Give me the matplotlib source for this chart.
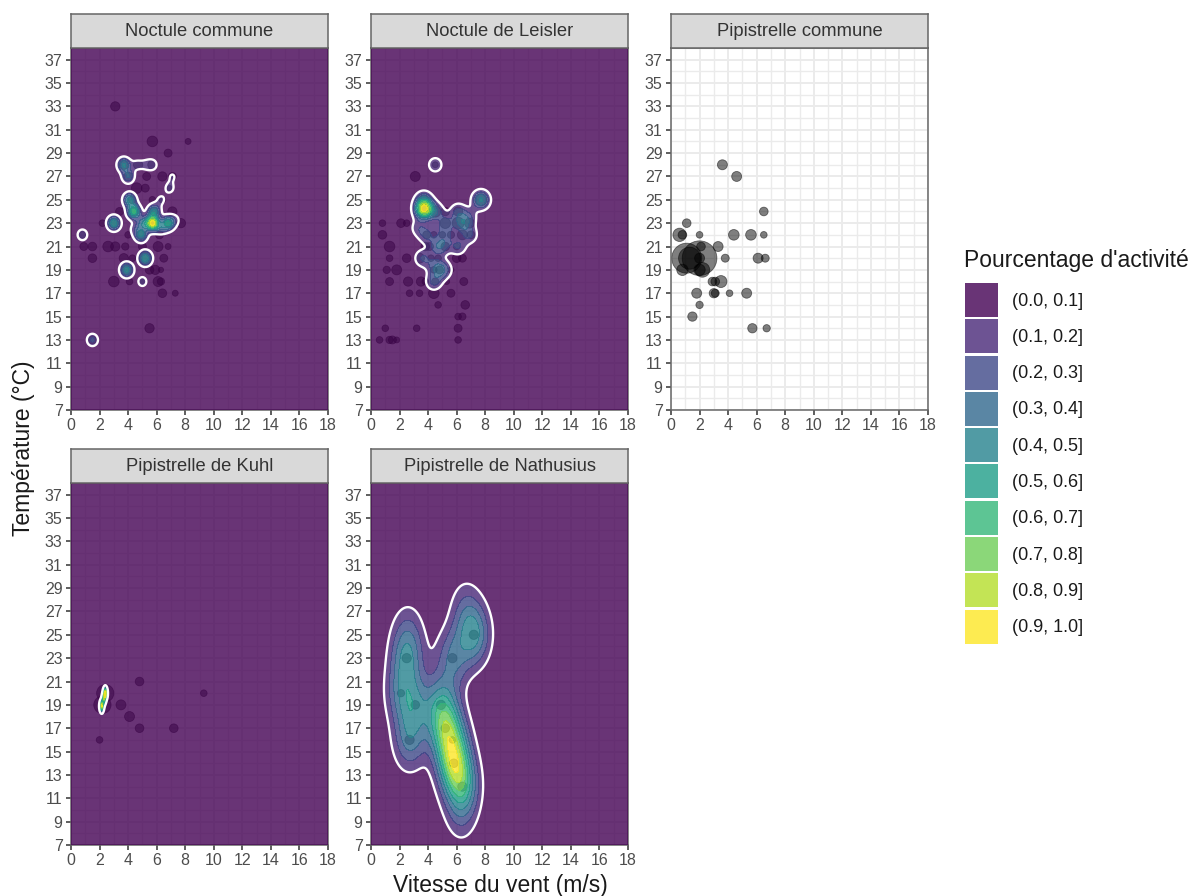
import numpy as np
import matplotlib
matplotlib.use("Agg")
import matplotlib.pyplot as plt
from matplotlib.patches import Rectangle

plt.rcParams['font.family'] = ['Liberation Sans', 'DejaVu Sans']

W, H = 1192, 896

names = ["Noctule commune", "Noctule de Leisler", "Pipistrelle commune",
         "Pipistrelle de Kuhl", "Pipistrelle de Nathusius"]

legend_labels = ["(0.0, 0.1]", "(0.1, 0.2]", "(0.2, 0.3]", "(0.3, 0.4]", "(0.4, 0.5]",
                 "(0.5, 0.6]", "(0.6, 0.7]", "(0.7, 0.8]", "(0.8, 0.9]", "(0.9, 1.0]"]

x_ticks = list(range(0, 19, 2))
y_ticks = list(range(7, 38, 2))

# observed nights: wind, temperature, activity
nc_wind = [3.1, 5.7, 8.2, 6.8, 3.7, 4.7, 5.7, 4.0, 5.3, 6.4, 7.1, 4.6, 5.2, 6.9, 5.7, 4.3, 6.4,
           3.4, 4.4, 5.8, 7.1, 2.2, 3.0, 5.7, 6.8, 7.7, 0.8, 4.0, 4.9, 6.2, 0.9, 1.5, 2.6, 3.1,
           3.8, 5.0, 6.1, 6.8, 1.5, 3.7, 4.3, 5.2, 6.5, 3.9, 5.5, 5.9, 6.3, 3.0, 4.1, 5.0, 6.1,
           6.3, 6.4, 7.3, 5.5, 1.5]
nc_temp = [33, 30, 30, 29, 28, 28, 28, 27, 27, 27, 27, 26, 26, 26, 25, 25, 25,
           24, 24, 24, 24, 23, 23, 23, 23, 23, 22, 22, 22, 22, 21, 21, 21, 21,
           21, 21, 21, 21, 20, 20, 20, 20, 20, 19, 19, 19, 19, 18, 18, 18, 18,
           18, 17, 17, 14, 13]
nc_act = [14, 16, 9, 12, 14, 14, 14, 13, 12, 14, 12, 16, 12, 8, 10, 12, 10,
          12, 13, 13, 14, 10, 14, 16, 12, 14, 10, 10, 14, 12, 12, 13, 16, 14,
          11, 12, 15, 9, 13, 14, 10, 20, 12, 16, 13, 14, 8, 16, 10, 15, 15,
          11, 13, 9, 14, 12]

nl_wind = [3.1, 3.7, 7.7, 3.7, 4.5, 5.2, 6.1, 0.8, 2.1, 2.5, 5.2, 6.1, 6.9, 0.8, 3.9, 4.4, 5.0,
           5.6, 6.4, 7.0, 1.3, 3.8, 4.1, 5.2, 6.0, 1.3, 2.5, 3.4, 4.2, 4.7, 6.0, 6.4, 1.1, 1.8,
           4.4, 4.8, 5.6, 1.3, 2.6, 3.5, 3.8, 4.5, 5.3, 6.5, 2.7, 3.4, 4.4, 5.6, 4.7, 6.6, 6.1,
           6.4, 1.0, 3.2, 6.1, 0.6, 1.3, 1.5, 1.8, 6.1, 4.5]
nl_temp = [27, 25, 25, 24, 24, 24, 24, 23, 23, 23, 23, 23, 23, 22, 22, 22, 22,
           22, 22, 22, 21, 21, 21, 21, 21, 20, 20, 20, 20, 20, 20, 20, 19, 19,
           19, 19, 19, 18, 18, 18, 18, 18, 18, 18, 17, 17, 17, 17, 16, 16, 15,
           15, 14, 14, 14, 13, 13, 13, 13, 13, 28]
nl_act = [15, 15, 18, 20, 17, 13, 14, 10, 13, 10, 16, 18, 15, 13, 12, 10, 10,
          11, 15, 12, 16, 13, 12, 13, 10, 10, 13, 15, 10, 10, 13, 12, 11, 15,
          10, 12, 9, 12, 14, 14, 10, 11, 9, 12, 10, 10, 16, 12, 10, 13, 10,
          11, 10, 10, 12, 10, 11, 12, 9, 10, 9]

pc_wind = [3.6, 4.6, 6.5, 1.1, 0.6, 0.8, 2.0, 4.4, 5.6, 6.5, 2.1, 3.3, 1.1, 1.3, 2.0, 2.0, 3.8,
           6.1, 6.6, 0.8, 2.0, 2.2, 2.9, 3.1, 3.5, 1.8, 3.0, 3.1, 4.1, 5.3, 2.0, 1.5, 5.7, 6.7]
pc_temp = [28, 27, 24, 23, 22, 22, 22, 22, 22, 22, 21, 21, 20, 20, 20, 20, 20,
           20, 20, 19, 19, 19, 18, 18, 18, 17, 17, 17, 17, 17, 16, 15, 14, 14]
pc_act = [15, 15, 13, 13, 20, 13, 10, 16, 16, 10, 13, 15, 45, 33, 52, 15, 12,
          15, 12, 17, 17, 22, 13, 13, 18, 15, 14, 12, 10, 15, 11, 14, 14, 11]

pk_wind = [4.8, 2.4, 9.3, 2.2, 3.5, 4.1, 4.8, 7.2, 2.0]
pk_temp = [21, 20, 20, 19, 19, 18, 17, 17, 16]
pk_act = [13, 26, 10, 26, 15, 15, 13, 13, 10]

pn_wind = [7.2, 2.5, 5.7, 2.1, 3.1, 4.9, 5.2, 2.7, 5.7, 5.8, 6.4]
pn_temp = [25, 23, 23, 20, 19, 19, 17, 16, 16, 14, 12]
pn_act = [14, 14, 14, 11, 13, 14, 13, 14, 10, 13, 14]

# density: centre, height, per species bandwidth
nc_dens_x = [5.7, 6.8, 4.4, 4.1, 5.8, 5.0, 4.9, 3.0, 0.8, 5.2, 3.9, 5.0, 1.5, 3.7, 4.0, 4.6, 5.2, 5.7, 6.9, 7.1, 6.3, 4.4, 6.3, 7.3]
nc_dens_y = [23, 23, 24, 25, 24, 23, 22, 23, 22, 20, 19, 18, 13, 28, 27, 28, 28, 28, 26, 27, 25, 22.5, 22.6, 23.3]
nc_dens_h = [.92, .5, .62, .44, .42, .3, .42, .5, .18, .5, .46, .15, .22, .42, .3, .12, .1, .15, .14, .105, .12, .1, .2, .1]
nc_bw = (0.31, 0.42)

nl_dens_x = [3.7, 3.7, 7.7, 4.5, 6.4, 6.1, 5.2, 4.5, 5.2, 3.9, 5.0, 6.9, 4.8, 4.4, 3.6, 4.6, 6.1, 6.9, 3.3, 4.4, 5.2]
nl_dens_y = [24.2, 25, 25, 28, 23, 24, 23, 24, 22, 22, 21, 22, 19, 18, 20, 21, 21, 23.5, 22.6, 19.5, 19]
nl_dens_h = [.86, .25, .42, .17, .3, .2, .2, .24, .2, .2, .16, .2, .24, .22, .2, .17, .2, .14, .14, .12, .12]
nl_bw = (0.42, 0.55)

pk_dens_x = [2.4, 2.3, 2.15]
pk_dens_y = [20.0, 19.5, 18.9]
pk_dens_h = [1.0, .6, .9]
pk_bw = (0.09, 0.32)

pn_dens_x = [7.2, 2.5, 5.7, 2.1, 3.1, 4.9, 5.2, 2.7, 5.7, 5.8, 6.4, 6.6, 2.6, 6.3]
pn_dens_y = [25, 23, 23, 20, 19, 19, 17, 16, 16, 14, 12, 27.3, 25.3, 9.5]
pn_dens_h = [.4, .32, .28, .24, .26, .33, .38, .3, .24, .55, .42, .15, .15, .12]
pn_bw = (0.8, 1.85)

panels = [
    (nc_wind, nc_temp, nc_act, nc_dens_x, nc_dens_y, nc_dens_h, nc_bw),
    (nl_wind, nl_temp, nl_act, nl_dens_x, nl_dens_y, nl_dens_h, nl_bw),
    (pc_wind, pc_temp, pc_act, None, None, None, None),
    (pk_wind, pk_temp, pk_act, pk_dens_x, pk_dens_y, pk_dens_h, pk_bw),
    (pn_wind, pn_temp, pn_act, pn_dens_x, pn_dens_y, pn_dens_h, pn_bw),
]

# left, top of each panel in pixels
panel_pos = [(71, 48), (371, 48), (671, 48), (71, 483), (371, 483)]
pw, ph = 257, 362
strip_h = 34

levels = np.arange(0, 1.01, 0.1)
viridis = plt.get_cmap('viridis')
fills = [viridis(i / 9) for i in range(10)]


def makeAxes(fig, left, top, width, height):
    return fig.add_axes([left / W, 1 - (top + height) / H, width / W, height / H])


def densityField(xs, ys, hs, bw):
    gx = np.linspace(0, 18, 721)
    gy = np.linspace(7, 38, 931)
    X, Y = np.meshgrid(gx, gy)
    Z = np.zeros_like(X)
    for cx, cy, h in zip(xs, ys, hs):
        Z += h * np.exp(-((X - cx) / bw[0]) ** 2 / 2 - ((Y - cy) / bw[1]) ** 2 / 2)
    return gx, gy, np.clip(Z, 0, 0.999)


fig = plt.figure(figsize=(W / 100, H / 100), dpi=100)

for name, pos, data in zip(names, panel_pos, panels):
    wind, temp, act, dx, dy, dh, bw = data
    ax = makeAxes(fig, pos[0], pos[1], pw, ph)
    ax.set_xlim(0, 18)
    ax.set_ylim(7, 38)
    ax.set_xticks(x_ticks)
    ax.set_yticks(y_ticks)
    ax.set_xticks(range(1, 19, 2), minor=True)
    ax.set_yticks(range(8, 39, 2), minor=True)
    ax.grid(True, which='major', color='#ebebeb', lw=1.4, zorder=0)
    ax.grid(True, which='minor', color='#ebebeb', lw=1.0, zorder=0)
    ax.set_axisbelow(True)
    ax.tick_params(which='minor', length=0)
    ax.tick_params(which='major', length=3.6, width=1.1, color='#333333',
                   labelcolor='#4d4d4d', labelsize=11.5, pad=2.5)
    for sp in ax.spines.values():
        sp.set_color('#666666')
        sp.set_linewidth(1.1)

    sizes = (0.48 * np.array(act)) ** 2
    ax.scatter(wind, temp, s=sizes, color='black', alpha=0.5, linewidths=0.6, zorder=2)

    if dx is not None:
        gx, gy, Z = densityField(dx, dy, dh, bw)
        ax.contourf(gx, gy, Z, levels=levels, colors=fills, alpha=0.8, zorder=3)
        ax.contour(gx, gy, Z, levels=[0.1], colors='white', linewidths=1.7, zorder=4)

    strip = makeAxes(fig, pos[0], pos[1] - strip_h, pw, strip_h)
    strip.set_facecolor('#d9d9d9')
    strip.set_xticks([])
    strip.set_yticks([])
    for sp in strip.spines.values():
        sp.set_color('#666666')
        sp.set_linewidth(1.1)
    strip.text(0.5, 0.5, name, ha='center', va='center', fontsize=13.2, color='#333333',
               transform=strip.transAxes)

fig.text(24 / W, 1 - 448 / H, "Température (°C)", rotation=90, ha='center', va='center',
         fontsize=16.5, color='#1a1a1a')
fig.text(500 / W, 1 - 885 / H, "Vitesse du vent (m/s)", ha='center', va='center',
         fontsize=16.5, color='#1a1a1a')

# legend
fig.text(964 / W, 1 - 260 / H, "Pourcentage d'activité", ha='left', va='center',
         fontsize=16.5, color='#1a1a1a')
for i, lab in enumerate(legend_labels):
    top = 283 + i * 36.3
    fig.add_artist(Rectangle((965 / W, 1 - (top + 34) / H), 33 / W, 34 / H, transform=fig.transFigure,
                             facecolor=fills[i], alpha=0.8, edgecolor='none'))
    fig.text(1012 / W, 1 - (top + 18) / H, lab, ha='left', va='center', fontsize=13, color='#1a1a1a')

fig.savefig('out.png', dpi=100)
